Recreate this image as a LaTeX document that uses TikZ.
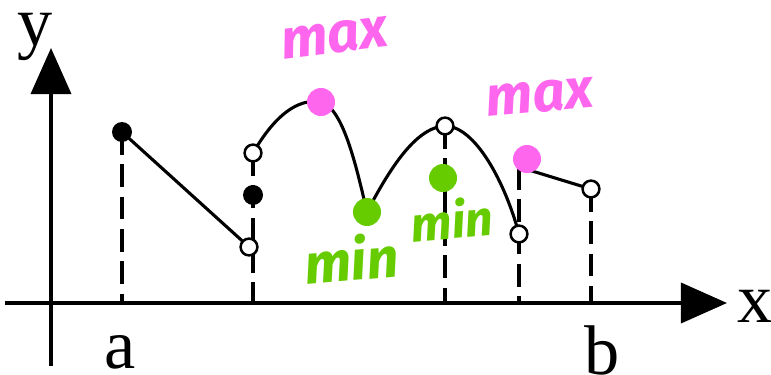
\documentclass[tikz,border=0pt]{standalone}
\usepackage{fontspec}
\setmainfont{Liberation Serif}
\newfontfamily\handfont{Fira Sans}
\usepackage{tikz}
\usetikzlibrary{arrows.meta}
\definecolor{maxpink}{RGB}{255,102,238}
\definecolor{mingreen}{RGB}{102,204,0}
\tikzset{
  axis/.style = {line width=2.6pt, -{Triangle[length=1.15cm,width=1cm]}},
  graph_l/.style = {line width=2.2pt},
  guide/.style = {line width=2.4pt, dash pattern=on 16pt off 7pt},
  dot_f/.style = {circle, fill=black, inner sep=0pt,
    minimum size=0.5cm},% point plein
  dot_o/.style = {circle, draw=black, fill=white, line width=1.8pt,
    inner sep=0pt, minimum size=0.42cm},% point vide
  dot_max/.style = {circle, fill=maxpink, inner sep=0pt,
    minimum size=0.7cm},% maximum
  dot_min/.style = {circle, fill=mingreen, inner sep=0pt,
    minimum size=0.7cm},% minimum
  lbl/.style = {inner sep=0pt, font=\fontsize{50}{50}\selectfont},
  hand_max/.style = {inner sep=0pt, maxpink,
    font=\handfont\bfseries\itshape\fontsize{40}{40}\selectfont},
  hand_min/.style = {inner sep=0pt, mingreen,
    font=\handfont\bfseries\itshape\fontsize{35}{35}\selectfont},
}

\begin{document}
\begin{tikzpicture}[x=0.025cm,y=-0.025cm]
  \useasboundingbox (0,0) rectangle (771,375);

  % axes
  \coordinate (xs) at (5,303);
  \coordinate (xe) at (727,303);
  \coordinate (ys) at (51,366);
  \coordinate (ye) at (51,48);
  \draw[axis] (xs) -- (xe);
  \draw[axis] (ys) -- (ye);

  % points of the graph
  \coordinate (p1) at (122,132);
  \coordinate (p2) at (249,247);
  \coordinate (p3) at (253,153);
  \coordinate (p4) at (253,195);
  \coordinate (m1) at (321,102);
  \coordinate (n1) at (367,212);
  \coordinate (p5) at (445,126);
  \coordinate (n2) at (443,178);
  \coordinate (p6) at (519,234);
  \coordinate (p7) at (519,167);
  \coordinate (m2) at (527,159);
  \coordinate (p8) at (591,189);

  % dashed guides
  \draw[guide] (p1) -- (p1 |- xs);
  \draw[guide] (p3) -- (p3 |- xs);
  \draw[guide] (p5) -- (p5 |- xs);
  \draw[guide] (p7) -- (p7 |- xs);
  \draw[guide] (p8) -- (p8 |- xs);

  % graph
  \draw[graph_l] (p1) -- (p2);
  \draw[graph_l] (p3) .. controls (275,115) and (298,98) .. (m1)
    .. controls (343,108) and (356,165) .. (n1);
  \draw[graph_l] (n1) .. controls (388,172) and (415,127) .. (p5)
    .. controls (475,126) and (505,182) .. (p6);
  \draw[graph_l] (p7) -- (p8);

  % dots
  \node[dot_f] (d1) at (p1) {};
  \node[dot_o] (d2) at (p2) {};
  \node[dot_o] (d3) at (p3) {};
  \node[dot_f] (d4) at (p4) {};
  \node[dot_o] (d5) at (p5) {};
  \node[dot_o] (d6) at (p6) {};
  \node[dot_o] (d8) at (p8) {};
  \node[dot_max] (dm1) at (m1) {};
  \node[dot_max] (dm2) at (m2) {};
  \node[dot_min] (dn1) at (n1) {};
  \node[dot_min] (dn2) at (n2) {};

  % labels
  \node[lbl] (ylab) at (35,37) {y};
  \node[lbl] (xlab) at (755,306) {x};
  \node[lbl] (alab) at (120,352) {a};
  \node[lbl] (blab) at (602,350) {b};
  \node[hand_max, rotate=7] (max1) at (335,38) {max};
  \node[hand_max, rotate=5] (max2) at (540,97) {max};
  \node[hand_min, font=\handfont\bfseries\itshape\fontsize{40}{40}\selectfont,
    rotate=5] (min1) at (351,258) {min};
  \node[hand_min, rotate=5] (min2) at (452,219) {min};
\end{tikzpicture}
\end{document}
